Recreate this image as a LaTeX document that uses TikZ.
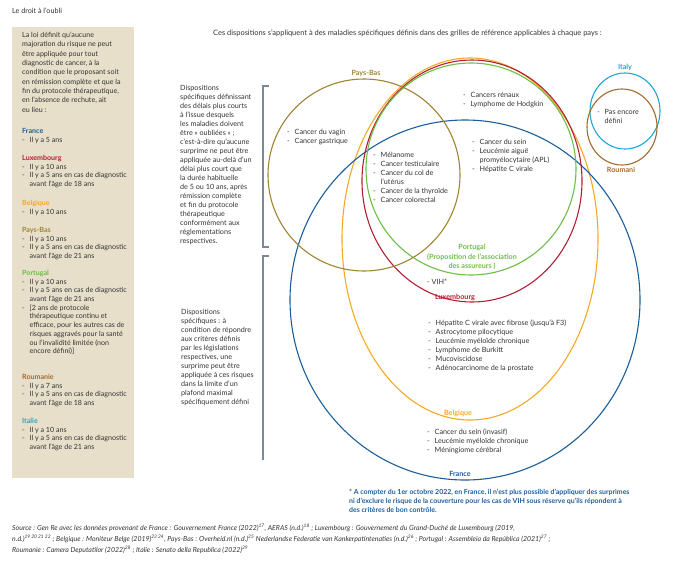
\documentclass[tikz,border=0pt]{standalone}
\usepackage{fontspec}
\setmainfont{Lato}

\definecolor{txtgray}{HTML}{333333}
\definecolor{boxbeige}{HTML}{E7DFCA}
\definecolor{brackgray}{HTML}{7D8893}
\definecolor{francec}{HTML}{1B5E9B}
\definecolor{luxc}{HTML}{B31F33}
\definecolor{belgc}{HTML}{F7A823}
\definecolor{paysbasc}{HTML}{A08432}
\definecolor{portc}{HTML}{6CBE45}
\definecolor{roumc}{HTML}{A56B2C}
\definecolor{italc}{HTML}{20A6D4}

\newcommand{\dashit}{\makebox[7.5pt][l]{-}}
\newcommand{\indt}{\hspace*{7.5pt}}

\tikzset{
  txt/.style={anchor=north west, align=left},
  boxtxt/.style={txt, font=\fontsize{7.1}{8.7}\selectfont},
  lbl/.style={font=\fontsize{7.2}{9.5}\selectfont\bfseries},
  venn/.style={line width=1.1pt},
  brack/.style={draw=brackgray, line width=1.1pt},
}

\begin{document}
\begin{tikzpicture}[x=1pt, y=-1pt, every node/.style={inner sep=0pt, text=txtgray, font=\fontsize{7.2}{9}\selectfont}]
\useasboundingbox (0,0) rectangle (674,565);

% left box
\fill[boxbeige] (12,27) rectangle (134,478);
\node[txt] (titre) at (12,8) {Le droit à l'oubli};
\node[boxtxt, font=\fontsize{7.1}{9.3}\selectfont] (intro) at (22,32) {La loi définit qu'aucune\\ majoration du risque ne peut\\ être appliquée pour tout\\ diagnostic de cancer, à la\\ condition que le proposant soit\\ en rémission complète et que la\\ fin du protocole thérapeutique,\\ en l'absence de rechute, ait\\ eu lieu :};
\node[boxtxt] (bfrance) at (22,128) {\textcolor{francec}{\bfseries France}\\ \dashit Il y a 5 ans};
\node[boxtxt] (blux) at (22,155) {\textcolor{luxc}{\bfseries Luxembourg}\\ \dashit Il y a 10 ans\\ \dashit Il y a 5 ans en cas de diagnostic\\ \indt avant l'âge de 18 ans};
\node[boxtxt] (bbelg) at (22,200) {\textcolor{belgc}{\bfseries Belgique}\\ \dashit Il y a 10 ans};
\node[boxtxt] (bpaysbas) at (22,227) {\textcolor{paysbasc}{\bfseries Pays-Bas}\\ \dashit Il y a 10 ans\\ \dashit Il y a 5 ans en cas de diagnostic\\ \indt avant l'âge de 21 ans};
\node[boxtxt] (bport) at (22,270) {\textcolor{portc}{\bfseries Portugal}\\ \dashit Il y a 10 ans\\ \dashit Il y a 5 ans en cas de diagnostic\\ \indt avant l'âge de 21 ans\\ \dashit [2 ans de protocole\\ \indt thérapeutique continu et\\ \indt efficace, pour les autres cas de\\ \indt risques aggravés pour la santé\\ \indt ou l'invalidité limitée (non\\ \indt encore défini)]};
\node[boxtxt] (broum) at (22,374) {\textcolor{roumc}{\bfseries Roumanie}\\ \dashit Il y a 7 ans\\ \dashit Il y a 5 ans en cas de diagnostic\\ \indt avant l'âge de 18 ans};
\node[boxtxt] (bital) at (22,418) {\textcolor{italc}{\bfseries Italie}\\ \dashit Il y a 10 ans\\ \dashit Il y a 5 ans en cas de diagnostic\\ \indt avant l'âge de 21 ans};

\node[anchor=west, font=\fontsize{7.45}{9}\selectfont] (entete) at (213,33) {Ces dispositions s'appliquent à des maladies spécifiques définis dans des grilles de référence applicables à chaque pays :};

% brackets
\node[txt] (dispo1) at (180,85) {Dispositions\\ spécifiques définissant\\ des délais plus courts\\ à l'issue desquels\\ les maladies doivent\\ être « oubliées » ;\\ c'est-à-dire qu'aucune\\ surprime ne peut être\\ appliquée au-delà d'un\\ délai plus court que\\ la durée habituelle\\ de 5 ou 10 ans, après\\ rémission complète\\ et fin du protocole\\ thérapeutique\\ conformément aux\\ réglementations\\ respectives.};
\node[txt] (dispo2) at (181,309) {Dispositions\\ spécifiques : à\\ condition de répondre\\ aux critères définis\\ par les législations\\ respectives, une\\ surprime peut être\\ appliquée à ces risques\\ dans la limite d'un\\ plafond maximal\\ spécifiquement défini};
\draw[brack] (269,86) -- (263,86) -- (263,247) -- (269,247);
\draw[brack] (269,256) -- (263,256) -- (263,460);

% venn
\draw[venn, belgc] (470,239) ellipse [x radius=128pt, y radius=181pt];
\draw[venn, francec] (465,300) ellipse [x radius=175pt, y radius=180pt];
\draw[venn, luxc] (472,181) ellipse [x radius=110pt, y radius=121pt];
\draw[venn, portc] (471,169) ellipse [x radius=105pt, y radius=106pt];
\draw[venn, paysbasc] (364,175) circle [radius=96pt];
\draw[venn, italc] (625,111) ellipse [x radius=35pt, y radius=38pt];
\draw[venn, roumc] (622,127) ellipse [x radius=35pt, y radius=38pt];

\node[lbl, text=paysbasc] (lpaysbas) at (366,73) {Pays-Bas};
\node[lbl, text=italc] (lital) at (625,67) {Italy};
\node[lbl, text=roumc] (lroum) at (621,170) {Roumani};
\node[lbl, text=portc, align=center] (lport) at (472,257) {Portugal\\ (Proposition de l'association\\ des assureurs )};
\node[lbl, text=luxc] (llux) at (455,297) {Luxembourg};
\node[lbl, text=belgc] (lbelg) at (458,413) {Belgique};
\node[lbl, text=francec] (lfrance) at (460,474) {France};

\node[txt] (vagin) at (287,129) {\dashit Cancer du vagin\\ \dashit Cancer gastrique};
\node[txt] (renaux) at (463,92) {\dashit Cancers rénaux\\ \dashit Lymphome de Hodgkin};
\node[txt] (melanome) at (373,152) {\dashit Mélanome\\ \dashit Cancer testiculaire\\ \dashit Cancer du col de\\ \indt l'utérus\\ \dashit Cancer de la thyroïde\\ \dashit Cancer colorectal};
\node[txt] (sein) at (472,139) {\dashit Cancer du sein\\ \dashit Leucémie aiguë\\ \indt promyélocytaire (APL)\\ \dashit Hépatite C virale};
\node[txt] (pasdef) at (597,109) {\dashit Pas encore\\ \indt défini};
\node[txt] (vih) at (427,279) {- VIH*};
\node[txt] (fibrose) at (428,320) {\dashit Hépatite C virale avec fibrose (jusqu'à F3)\\ \dashit Astrocytome pilocytique\\ \dashit Leucémie myéloïde chronique\\ \dashit Lymphome de Burkitt\\ \dashit Mucoviscidose\\ \dashit Adénocarcinome de la prostate};
\node[txt] (invasif) at (427,429) {\dashit Cancer du sein (invasif)\\ \dashit Leucémie myéloïde chronique\\ \dashit Méningiome cérébral};

% notes
\node[txt, text=francec, font=\fontsize{6.95}{9}\selectfont\bfseries] (note) at (349,489) {* A compter du 1er octobre 2022, en France, il n'est plus possible d'appliquer des surprimes\\ ni d'exclure le risque de la couverture pour les cas de VIH sous réserve qu'ils répondent à\\ des critères de bon contrôle.};
\node[txt, font=\fontsize{6.95}{11}\selectfont\itshape] (source) at (12,524) {Source : Gen Re avec les données provenant de France : Gouvernement France (2022)\textsuperscript{17}, AERAS (n.d.)\textsuperscript{18} ; Luxembourg : Gouvernement du Grand-Duché de Luxembourg (2019,\\ n.d.)\textsuperscript{19 20 21 22} ; Belgique : Moniteur Belge (2019)\textsuperscript{23 24}, Pays-Bas : Overheid.nl (n.d.)\textsuperscript{25} Nederlandse Federatie van Kankerpatintenaties (n.d.)\textsuperscript{26} ; Portugal : Assembleia da República (2021)\textsuperscript{27} ;\\ Roumanie : Camera Deputatilor (2022)\textsuperscript{28} ; Italie : Senato della Republica (2022)\textsuperscript{29}};

\end{tikzpicture}
\end{document}
